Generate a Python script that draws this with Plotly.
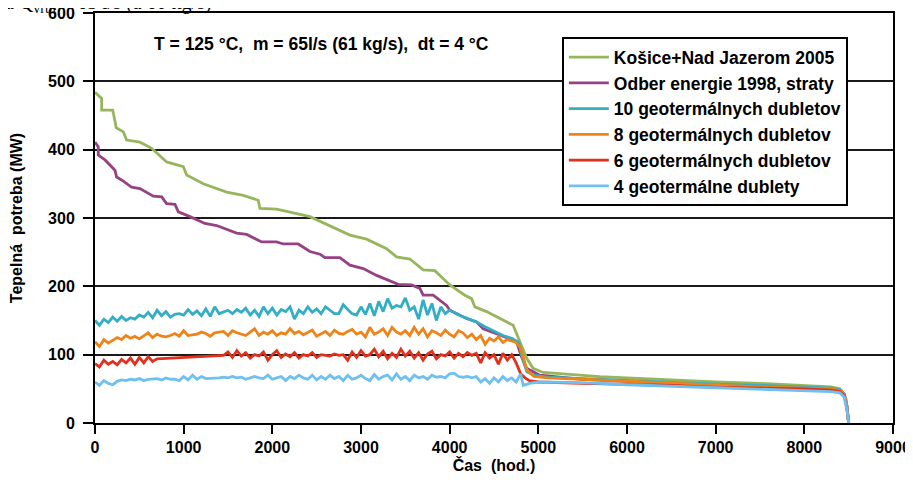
import plotly.graph_objects as go

# ---------------- data ----------------
STEP = 50  # hours between samples of the noisy well curves

green_x = [0, 75, 75, 200, 240, 320, 357, 507, 639, 808, 996, 1034, 1221, 1485, 1672, 1841, 1860,
           2048, 2424, 2649, 2875, 3063, 3289, 3401, 3551, 3701, 3833, 4002, 4171, 4247, 4284, 4416,
           4603, 4716, 4754, 4810, 4867, 4941, 5054, 5693, 6000, 7000, 7500, 8000, 8300, 8400, 8450,
           8480, 8500]
green_y = [484, 475, 458, 458, 432, 426, 414, 411, 402, 382, 375, 363, 350, 338, 333, 326, 314,
           313, 302, 289, 275, 269, 255, 243, 240, 224, 223, 202, 187, 182, 170, 163,
           151, 143, 131, 114, 95, 80, 74, 68, 66, 60, 58, 55, 53, 50, 42,
           25, 0]

purple_x = [0, 37, 37, 113, 225, 244, 320, 413, 507, 658, 752, 808, 902, 940, 1071, 1240, 1372,
            1597, 1710, 1879, 2048, 2123, 2292, 2424, 2537, 2593, 2762, 2875, 3025, 3176, 3420,
            3570, 3664, 3701, 3814, 3965, 4002, 4190, 4303, 4378, 4566, 4754, 4810, 4867, 5017,
            5500, 6000, 6500, 7000, 7500, 8000, 8300, 8400, 8450, 8480, 8500]
purple_y = [411, 404, 392, 385, 370, 360, 354, 345, 343, 332, 331, 321, 320, 309, 302, 292, 289,
            278, 276, 265, 265, 262, 262, 251, 247, 242, 242, 231, 226, 216, 203,
            202, 197, 187, 187, 172, 165, 153, 148, 138, 129, 119, 97, 80, 70,
            64, 61, 58, 56, 54, 52, 50, 48, 42, 25, 0]

# 10 doublets: samples every 50 h from 0 to 3950 h, then tail
teal_noisy = [150, 143, 152, 147, 155, 149, 156, 150, 154, 152,
              158, 155, 162, 154, 165, 157, 163, 155, 159, 160,
              158, 166, 159, 164, 157, 167, 156, 170, 160, 162,
              165, 160, 166, 162, 168, 158, 165, 156, 170, 160,
              168, 158, 166, 163, 170, 152, 165, 160, 170, 162,
              167, 160, 170, 165, 160, 160, 173, 166, 160, 158,
              170, 159, 175, 157, 178, 163, 182, 168, 172, 170,
              183, 165, 170, 152, 180, 158, 175, 150, 170, 160]
teal_tail_x = [4000, 4100, 4200, 4300, 4400, 4500, 4600, 4700, 4780, 4820, 4870, 4950, 5100, 5500,
               6000, 6500, 7000, 7500, 8000, 8300, 8400, 8450, 8480, 8500]
teal_tail_y = [165, 158, 153, 148, 141, 134, 128, 124, 118, 95, 75, 70, 67, 65,
               62, 59, 57, 55, 53, 51, 49, 43, 25, 0]

# 8 doublets: every 50 h from 0 to 4750 h, then tail
orange_noisy = [119, 112, 122, 117, 121, 125, 122, 128, 124, 127,
                123, 128, 132, 125, 130, 127, 126, 128, 131, 127,
                135, 128, 129, 130, 133, 131, 127, 132, 133, 134,
                128, 135, 132, 130, 128, 133, 138, 128, 133, 130,
                135, 128, 132, 130, 138, 131, 134, 129, 133, 136,
                127, 130, 134, 128, 136, 131, 130, 134, 137, 130,
                133, 126, 140, 130, 133, 138, 128, 140, 133, 130,
                135, 128, 140, 130, 138, 126, 135, 132, 128, 136,
                130, 126, 135, 132, 125, 130, 122, 128, 115, 124,
                120, 126, 118, 122, 120, 118]
orange_tail_x = [4800, 4830, 4870, 4950, 5100, 5500, 6000, 6500, 7000, 7500, 8000, 8300, 8420,
                 8470, 8500]
orange_tail_y = [110, 95, 78, 68, 66, 64, 61, 58, 56, 53, 51, 50, 47, 35, 0]

# 6 doublets: every 50 h 0-700 h, straight run, every 50 h 1450-4750 h, then tail
red_start = [87, 82, 92, 86, 90, 85, 93, 88, 95, 86, 96, 88, 97, 90, 94]
red_resume_at = 1450
red_noisy = [99, 104, 96, 106, 98, 103, 95, 100, 98, 104, 92,
             100, 106, 96, 101, 97, 103, 95, 100, 98, 103,
             96, 100, 99, 98, 101, 99, 100, 92, 104, 96,
             106, 98, 100, 108, 97, 105, 94, 102, 96, 108,
             98, 105, 95, 103, 92, 101, 105, 94, 100, 98,
             104, 95, 102, 97, 103, 99, 102, 88, 103, 95,
             100, 86, 102, 92, 100, 88]
red_tail_x = [4800, 4850, 4900, 5000, 5500, 6000, 6500, 7000, 7500, 8000, 8300, 8400, 8450, 8480, 8500]
red_tail_y = [72, 66, 62, 60, 58, 57, 55, 52, 51, 50, 48, 46, 40, 20, 0]

# 4 doublets: every 50 h from 0 to 4750 h, then tail
blue_noisy = [60, 55, 62, 58, 56, 61, 63, 62, 64, 63,
              65, 62, 64, 64, 65, 63, 66, 64, 64, 62,
              68, 63, 70, 64, 68, 65, 65, 66, 66, 67,
              66, 68, 66, 67, 64, 66, 68, 66, 65, 70,
              64, 66, 68, 62, 68, 65, 70, 66, 64, 70,
              63, 68, 64, 70, 65, 68, 62, 70, 64, 66,
              70, 65, 62, 71, 64, 68, 70, 63, 72, 64,
              68, 62, 70, 66, 68, 64, 70, 67, 68, 66,
              72, 73, 68, 67, 68, 66, 68, 60, 65, 58,
              66, 60, 68, 62, 66, 60]
blue_tail_x = [4800, 4830, 4900, 5000, 5500, 6000, 6500, 7000, 7500, 8000, 8300, 8400, 8450, 8480, 8500]
blue_tail_y = [72, 55, 58, 60, 59, 56, 54, 51, 49, 47, 46, 44, 38, 20, 0]

series_names = ["Košice+Nad Jazerom 2005", "Odber energie 1998, straty",
                "10 geotermálnych dubletov", "8 geotermálnych dubletov",
                "6 geotermálnych dubletov", "4 geotermálne dublety"]
x_ticks = [0, 1000, 2000, 3000, 4000, 5000, 6000, 7000, 8000, 9000]
y_ticks = [0, 100, 200, 300, 400, 500, 600]

# ---------------- build series ----------------
def grid(vals, start=0):
    return [start + i * STEP for i in range(len(vals))]

teal_x = grid(teal_noisy) + teal_tail_x
teal_y = teal_noisy + teal_tail_y
orange_x = grid(orange_noisy) + orange_tail_x
orange_y = orange_noisy + orange_tail_y
red_x = grid(red_start) + grid(red_noisy, red_resume_at) + red_tail_x
red_y = red_start + red_noisy + red_tail_y
blue_x = grid(blue_noisy) + blue_tail_x
blue_y = blue_noisy + blue_tail_y

colors = ["#97B65C", "#964183", "#33AEC4", "#EE8419", "#E1301C", "#6EC0F0"]
all_x = [green_x, purple_x, teal_x, orange_x, red_x, blue_x]
all_y = [green_y, purple_y, teal_y, orange_y, red_y, blue_y]

fig = go.Figure()
for name, xs, ys, c in zip(series_names, all_x, all_y, colors):
    fig.add_trace(go.Scatter(x=xs, y=ys, mode="lines", name=name, legendgroup=name,
                             line=dict(color=c, width=2.8)))

FAM = "Liberation Sans, Arial, sans-serif"
bold = dict(family=FAM, color="black", weight="bold")

# page has an 8px body margin, so the figure is 8px smaller and margins are shifted
fig.update_layout(
    width=905, height=475,
    margin=dict(l=87, r=20, t=5, b=60, autoexpand=False),
    paper_bgcolor="white", plot_bgcolor="white",
    font=dict(family=FAM, color="black"),
    showlegend=True,
    legend=dict(x=0.585, y=0.941, xanchor="left", yanchor="top",
                bgcolor="white", bordercolor="black", borderwidth=2,
                font=dict(size=17.5, **bold), tracegroupgap=0,
                itemwidth=40),
    xaxis=dict(range=[0, 9000], tickvals=x_ticks, showgrid=False, zeroline=False, automargin=False,
               showline=True, linecolor="black", linewidth=2, mirror=True,
               ticks="outside", ticklen=9, tickwidth=2, tickcolor="black",
               ticklabeloverflow="allow",
               tickfont=dict(size=16, **bold),
               title=dict(text="Čas  (hod.)", font=dict(size=16, **bold), standoff=2)),
    yaxis=dict(range=[0, 600], tickvals=y_ticks, showgrid=True, gridcolor="#1a1a1a", gridwidth=2,
               zeroline=False, showline=True, linecolor="black", linewidth=2, mirror=True,
               automargin=False, ticklabelstandoff=5, ticklabeloverflow="allow",
               ticks="outside", ticklen=10, tickwidth=2, tickcolor="black",
               tickfont=dict(size=16, **bold),
               title=dict(text="Tepelná  potreba (MW)", font=dict(size=16, **bold), standoff=22)),
)

fig.add_annotation(x=2560, y=554, xref="x", yref="y", showarrow=False,
                   text="T = 125 °C,  m = 65l/s (61 kg/s),  dt = 4 °C",
                   font=dict(size=17.5, **bold))

fig.add_annotation(x=-0.115, y=0.988, xref="paper", yref="paper", xanchor="left", yanchor="bottom",
                   showarrow=False,
                   text="a Q<sub>vrtu</sub> = 65 l/s (a 60 kg/s)",
                   font=dict(size=20, family="Liberation Serif, Times New Roman, serif", color="black"))

fig.write_html("out.html")
